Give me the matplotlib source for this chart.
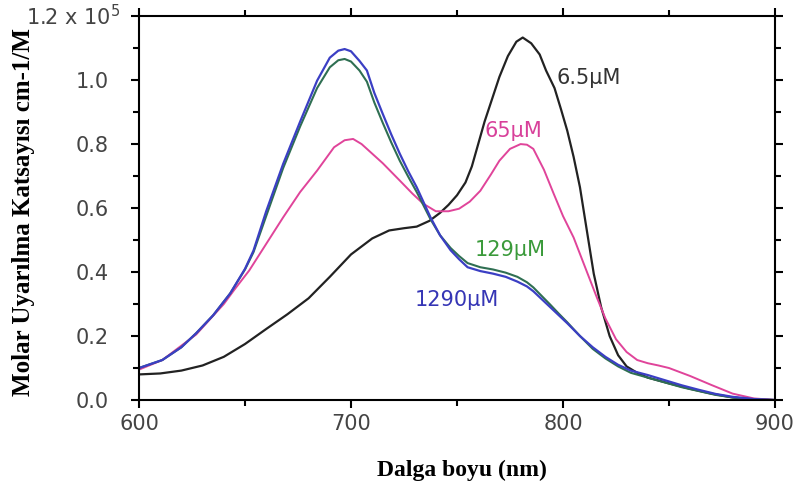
import matplotlib
matplotlib.use("Agg")
import matplotlib.pyplot as plt
from matplotlib.ticker import MultipleLocator

## --- data
# 6.5 uM (black)
wl_a = [600, 610, 620, 630, 640, 650, 660, 670, 680, 690, 700, 710, 718, 725, 731,
        737, 742, 746, 750, 754, 757, 760, 763, 766, 770, 774, 778, 781, 785, 789,
        792, 796, 799, 802, 805, 808, 811, 814.5, 818, 822, 826, 830, 835, 840, 850,
        860, 870, 880, 890, 900]
eps_a = [0.080, 0.083, 0.092, 0.108, 0.135, 0.175, 0.222, 0.268, 0.318, 0.385, 0.455,
         0.505, 0.530, 0.537, 0.542, 0.560, 0.585, 0.610, 0.640, 0.680, 0.730, 0.800,
         0.870, 0.930, 1.010, 1.075, 1.120, 1.133, 1.115, 1.080, 1.030, 0.975, 0.910,
         0.842, 0.760, 0.665, 0.540, 0.395, 0.290, 0.200, 0.140, 0.105, 0.085, 0.070,
         0.052, 0.035, 0.020, 0.008, 0.002, 0.0]
# 65 uM (magenta)
wl_b = [600, 611, 627, 640, 645, 652, 660, 668, 676, 684, 692, 697, 701, 705, 710,
        715, 723, 729, 734, 740, 746, 751, 756, 761, 766, 770, 775, 780, 783, 786,
        791, 795.6, 800, 805, 811.6, 816, 820, 825, 830, 835, 840, 845, 850, 860,
        870, 880, 890, 900]
eps_b = [0.095, 0.125, 0.205, 0.300, 0.345, 0.405, 0.488, 0.571, 0.650, 0.717, 0.790,
         0.812, 0.816, 0.800, 0.770, 0.740, 0.686, 0.645, 0.614, 0.590, 0.590, 0.598,
         0.620, 0.654, 0.705, 0.748, 0.785, 0.800, 0.798, 0.785, 0.720, 0.645, 0.575,
         0.508, 0.395, 0.320, 0.255, 0.190, 0.150, 0.125, 0.115, 0.108, 0.100, 0.075,
         0.047, 0.020, 0.005, 0.0]
# 129 uM (green) and 1290 uM (blue), same wavelengths
wl_cd = [600, 611, 620, 627, 635, 643, 650, 654, 660, 668, 676, 684, 690, 694, 697,
         700, 704, 707.5, 711, 715, 719, 723, 727, 731, 737.5, 742, 747, 751, 755,
         761, 767, 773, 778.5, 783, 786, 790, 794, 798, 802, 808, 814, 820, 826, 832,
         840, 848, 856, 864, 872, 880, 890, 900]
eps_c = [0.100, 0.125, 0.165, 0.209, 0.265, 0.333, 0.408, 0.462, 0.575, 0.725, 0.855,
         0.975, 1.040, 1.062, 1.066, 1.058, 1.030, 0.995, 0.930, 0.866, 0.805, 0.748,
         0.698, 0.650, 0.565, 0.515, 0.475, 0.450, 0.428, 0.415, 0.408, 0.398, 0.385,
         0.368, 0.352, 0.325, 0.298, 0.270, 0.243, 0.200, 0.160, 0.130, 0.105, 0.085,
         0.070, 0.055, 0.040, 0.028, 0.016, 0.008, 0.002, 0.0]
eps_d = [0.100, 0.125, 0.165, 0.209, 0.265, 0.333, 0.410, 0.467, 0.590, 0.738, 0.870,
         0.998, 1.070, 1.092, 1.097, 1.090, 1.060, 1.030, 0.960, 0.894, 0.830, 0.770,
         0.715, 0.665, 0.571, 0.515, 0.468, 0.440, 0.415, 0.403, 0.395, 0.385, 0.370,
         0.355, 0.340, 0.315, 0.290, 0.265, 0.240, 0.200, 0.165, 0.135, 0.110, 0.092,
         0.078, 0.062, 0.046, 0.032, 0.019, 0.010, 0.003, 0.0]

labels = ["6.5\u03bcM", "65\u03bcM", "129\u03bcM", "1290\u03bcM"]
label_pos = [(797, 1.007), (763, 0.842), (758.5, 0.468), (730, 0.312)]
line_cols = ["#222222", "#e0449a", "#2f6f52", "#3b3fc4"]
text_cols = ["#333333", "#d8409a", "#3a9a3a", "#3535b5"]

## --- plot
fig = plt.figure(figsize=(7.97, 4.88), dpi=100)
ax = fig.add_axes([0.1744, 0.1803, 0.798, 0.7867])

ax.plot(wl_a, eps_a, color=line_cols[0], lw=1.6)
ax.plot(wl_b, eps_b, color=line_cols[1], lw=1.4)
ax.plot(wl_cd, eps_c, color=line_cols[2], lw=1.5)
ax.plot(wl_cd, eps_d, color=line_cols[3], lw=1.6)

for lab, (x, y), c in zip(labels, label_pos, text_cols):
    ax.text(x, y, lab, color=c, fontsize=15, family="DejaVu Sans",
            ha="left", va="center")

ax.set_xlim(600, 900)
ax.set_ylim(0, 1.2)
ax.xaxis.set_major_locator(MultipleLocator(100))
ax.xaxis.set_minor_locator(MultipleLocator(50))
ax.yaxis.set_major_locator(MultipleLocator(0.2))
ax.yaxis.set_minor_locator(MultipleLocator(0.1))
ax.set_yticks([0.0, 0.2, 0.4, 0.6, 0.8, 1.0, 1.2])
ax.set_yticklabels(["0.0", "0.2", "0.4", "0.6", "0.8", "1.0", ""])

ax.tick_params(which="both", direction="out", top=True, right=True,
               width=1.5, colors="black", labelcolor="#444444", labelsize=15)
ax.tick_params(which="major", length=6)
ax.tick_params(which="minor", length=4)
ax.tick_params(axis="y", pad=16)
ax.tick_params(axis="x", pad=4)
for lab in ax.get_xticklabels() + ax.get_yticklabels():
    lab.set_family("DejaVu Sans")
for sp in ax.spines.values():
    sp.set_linewidth(1.5)

# top label carries the scale factor
ax.annotate("1.2 x 10$^5$", xy=(0, 1.2), xycoords=("axes fraction", "data"),
            xytext=(-13, 0), textcoords="offset points", ha="right", va="center",
            fontsize=15, color="#444444", family="DejaVu Sans")

ax.set_xlabel("Dalga boyu (nm)", family="Liberation Serif", fontweight="bold",
              fontsize=17)
ax.set_ylabel("Molar Uyar\u0131lma Katsay\u0131s\u0131 cm-1/M",
              family="Liberation Serif", fontweight="bold", fontsize=18)
ax.xaxis.set_label_coords(0.508, -0.155)
ax.yaxis.set_label_coords(-0.164, 0.49)

fig.savefig("out.png", dpi=100)
